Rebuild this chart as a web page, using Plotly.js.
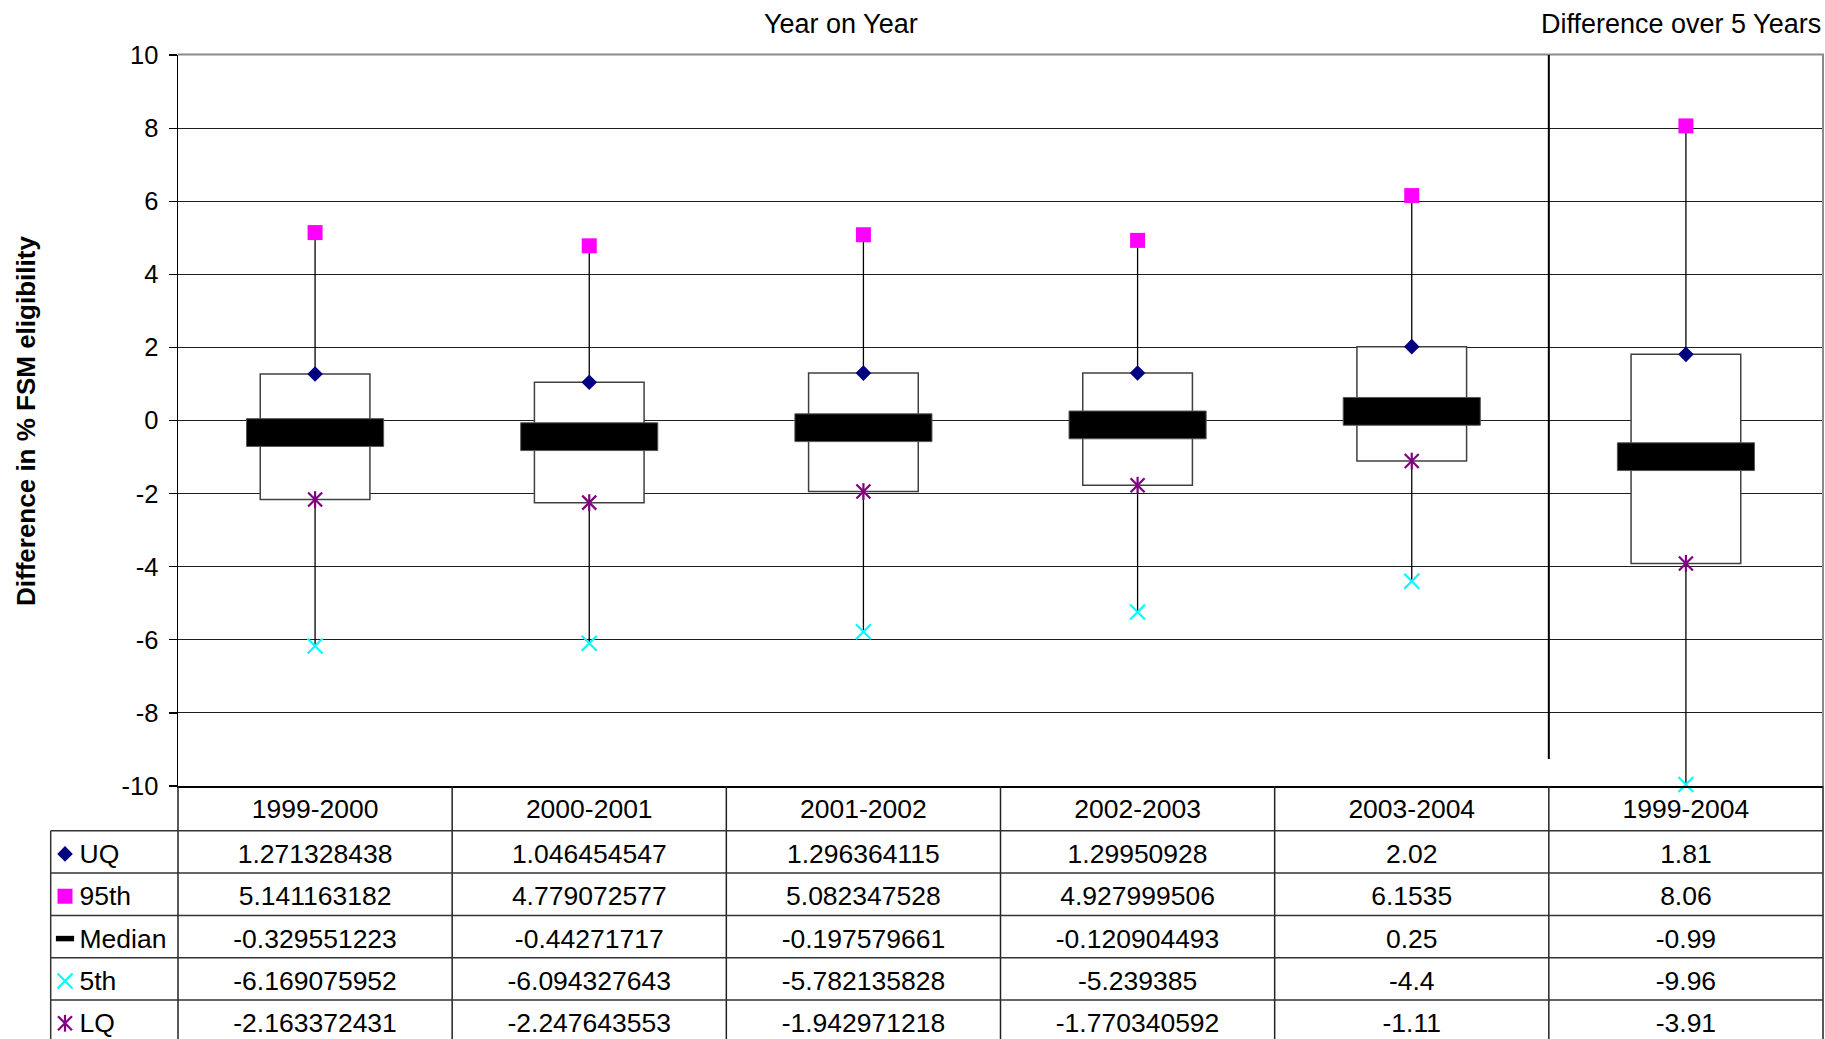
<!DOCTYPE html>
<html>
<head>
<meta charset="utf-8">
<script src="https://cdn.plot.ly/plotly-3.0.1.min.js"></script>
<style>html,body{margin:0;padding:0;background:#fff;}#chart{width:1825px;height:1039px;}</style>
</head>
<body>
<div id="chart"></div>
<script>
// ---- data ----
var categories = ['1999-2000', '2000-2001', '2001-2002', '2002-2003', '2003-2004', '1999-2004'];
var uq     = [1.271328438, 1.046454547, 1.296364115, 1.29950928, 2.02, 1.81];
var p95    = [5.141163182, 4.779072577, 5.082347528, 4.927999506, 6.1535, 8.06];
var median = [-0.329551223, -0.44271717, -0.197579661, -0.120904493, 0.25, -0.99];
var p5     = [-6.169075952, -6.094327643, -5.782135828, -5.239385, -4.4, -9.96];
var lq     = [-2.163372431, -2.247643553, -1.942971218, -1.770340592, -1.11, -3.91];
var rowNames = ['UQ', '95th', 'Median', '5th', 'LQ'];
var yTickVals = [-10, -8, -6, -4, -2, 0, 2, 4, 6, 8, 10];

// ---- layout geometry (pixels) ----
var W = 1825, H = 1039;
var PL = 178, PR = 1823, PT = 55, PB = 786;   // plot area
var TL = 50.7;                                 // table left edge
var ROW_TOP = 830.7, ROW_H = 42.35, HEAD_C = 808.4;
var TXT_DY = 4.5, HEAD_DY = 2.5;               // vertical nudge of table text
var FONT = 'Liberation Sans, Arial, sans-serif';
var FS = 26.5;
function px(x) { return x / W; }
function py(y) { return 1 - y / H; }

var COLORS = { uq: '#000080', p95: '#FF00FF', med: '#000000', p5: '#00FFFF', lq: '#800080' };

var traces = [];
// boxes (LQ..UQ)
traces.push({
  type: 'bar', x: categories, base: lq, y: uq.map(function (v, i) { return v - lq[i]; }),
  width: 0.4, marker: { color: '#ffffff', line: { color: '#404040', width: 1.5 } },
  xaxis: 'x', yaxis: 'y', hoverinfo: 'skip', showlegend: false
});
// median thick bars
var MED_H = 0.76;
traces.push({
  type: 'bar', x: categories, base: median.map(function (v) { return v - MED_H / 2; }),
  y: median.map(function () { return MED_H; }),
  width: 0.5, marker: { color: '#000000', line: { color: '#555', width: 1 } },
  xaxis: 'x', yaxis: 'y', hoverinfo: 'skip', showlegend: false
});
// whiskers
var wx = [], wy = [];
categories.forEach(function (c, i) {
  wx.push(c, c, null, c, c, null);
  wy.push(p95[i], uq[i], null, lq[i], p5[i], null);
});
traces.push({ type: 'scatter', mode: 'lines', x: wx, y: wy, line: { color: '#000', width: 1.3 },
  xaxis: 'x', yaxis: 'y', hoverinfo: 'skip', showlegend: false });

function mk(sym, size, color, open) {
  var m = { symbol: sym, size: size, color: color };
  if (open) m.line = { color: color, width: 2.2 };
  return m;
}
var markerDefs = [
  { vals: uq,  marker: [mk('diamond', 12, COLORS.uq)] },
  { vals: p95, marker: [mk('square', 15, COLORS.p95)] },
  { vals: p5,  marker: [mk('x-thin-open', 15, COLORS.p5, true)] },
  { vals: lq,  marker: [mk('x-thin-open', 14, COLORS.lq, true), mk('line-ns-open', 12, COLORS.lq, true)] }
];
markerDefs.forEach(function (d) {
  d.marker.forEach(function (m) {
    traces.push({ type: 'scatter', mode: 'markers', x: categories, y: d.vals, marker: m,
      cliponaxis: false, xaxis: 'x', yaxis: 'y', hoverinfo: 'skip', showlegend: false });
  });
});

// ---- table: header labels ----
traces.push({ type: 'scatter', mode: 'text', x: categories, y: categories.map(function () { return HEAD_C + HEAD_DY; }),
  text: categories, textposition: 'middle center', textfont: { family: FONT, size: FS, color: '#000' },
  cliponaxis: false, xaxis: 'x', yaxis: 'y2', hoverinfo: 'skip', showlegend: false });

// table values
var rowVals = [uq, p95, median, p5, lq];
rowVals.forEach(function (vals, r) {
  var yc = ROW_TOP + ROW_H * (r + 0.5) + TXT_DY;
  traces.push({ type: 'scatter', mode: 'text', x: categories, y: vals.map(function () { return yc; }),
    text: vals.map(function (v) { return String(v); }), textposition: 'middle center',
    textfont: { family: FONT, size: FS, color: '#000' },
    cliponaxis: false, xaxis: 'x', yaxis: 'y2', hoverinfo: 'skip', showlegend: false });
});

// legend symbols + labels in table's first column
var legendMarkers = [
  [mk('diamond', 12, COLORS.uq)],
  [mk('square', 15, COLORS.p95)],
  [{ symbol: 'line-ew-open', size: 13, color: '#000', line: { color: '#000', width: 5.5 } }],
  [mk('x-thin-open', 15, COLORS.p5, true)],
  [mk('x-thin-open', 14, COLORS.lq, true), mk('line-ns-open', 12, COLORS.lq, true)]
];
legendMarkers.forEach(function (ms, r) {
  var yc = ROW_TOP + ROW_H * (r + 0.5) + 2;
  ms.forEach(function (m) {
    traces.push({ type: 'scatter', mode: 'markers', x: [65], y: [yc], marker: m,
      cliponaxis: false, xaxis: 'x2', yaxis: 'y2', hoverinfo: 'skip', showlegend: false });
  });
});
traces.push({ type: 'scatter', mode: 'text', x: rowNames.map(function () { return 79.5; }),
  y: rowNames.map(function (n, r) { return ROW_TOP + ROW_H * (r + 0.5) + TXT_DY; }),
  text: rowNames, textposition: 'middle right', textfont: { family: FONT, size: FS, color: '#000' },
  cliponaxis: false, xaxis: 'x2', yaxis: 'y2', hoverinfo: 'skip', showlegend: false });

// ---- shapes: borders & table grid ----
var shapes = [];
function line(x0, y0, x1, y1, color, width) {
  shapes.push({ type: 'line', xref: 'paper', yref: 'paper', x0: px(x0), y0: py(y0), x1: px(x1), y1: py(y1),
    line: { color: color, width: width }, layer: 'above' });
}
line(PL, PT - 0.5, PR + 1, PT - 0.5, '#8a8a8a', 2);   // top border
line(PR, PT, PR, PB, '#8a8a8a', 2);                    // right border
var colW = (PR - PL) / categories.length;
for (var k = 0; k <= categories.length; k++) {
  line(PL + k * colW, PB, PL + k * colW, H, '#222', 1.5);
}
for (var r = 0; r < rowNames.length; r++) {
  line(TL, ROW_TOP + r * ROW_H, PR, ROW_TOP + r * ROW_H, '#333', 1.5);
}
line(TL, ROW_TOP, TL, H, '#333', 1.5);
// separator between year-on-year and 5-year difference
shapes.push({ type: 'line', xref: 'x', yref: 'y', x0: 4.5, x1: 4.5, y0: -9.26, y1: 10,
  line: { color: '#000', width: 2 }, layer: 'above' });

var annotations = [
  { text: 'Year on Year', xref: 'paper', yref: 'paper', x: px(841), y: py(24), showarrow: false,
    xanchor: 'center', yanchor: 'middle', font: { family: FONT, size: 27, color: '#000' } },
  { text: 'Difference over 5 Years', xref: 'paper', yref: 'paper', x: px(1681), y: py(24), showarrow: false,
    xanchor: 'center', yanchor: 'middle', font: { family: FONT, size: 27, color: '#000' } },
  { text: '<b>Difference in % FSM eligibility</b>', xref: 'paper', yref: 'paper', x: px(26), y: py(421),
    textangle: -90, showarrow: false, xanchor: 'center', yanchor: 'middle',
    font: { family: FONT, size: 26, color: '#000' } }
];

var layout = {
  width: W, height: H,
  margin: { l: 0, r: 0, t: 0, b: 0, pad: 0 },
  paper_bgcolor: '#fff', plot_bgcolor: '#fff',
  showlegend: false, barmode: 'overlay',
  font: { family: FONT, size: 26, color: '#000' },
  xaxis: {
    domain: [px(PL), px(PR)], type: 'category', categoryorder: 'array', categoryarray: categories,
    range: [-0.5, categories.length - 0.5], showticklabels: false, ticks: '', showgrid: false,
    zeroline: false, showline: true, linecolor: '#000', linewidth: 1.5, anchor: 'y', fixedrange: true
  },
  yaxis: {
    domain: [py(PB), py(PT)], range: [-10, 10], tickvals: yTickVals, ticktext: yTickVals.map(String),
    ticks: 'outside', ticklen: 8, tickwidth: 1.2, tickcolor: '#000', ticklabelstandoff: 5,
    tickfont: { family: FONT, size: 25.5, color: '#000' },
    showgrid: true, gridcolor: '#1e1e1e', gridwidth: 1, zeroline: false,
    showline: true, linecolor: '#000', linewidth: 1.5, anchor: 'x', fixedrange: true
  },
  xaxis2: { domain: [0, px(PL)], range: [0, PL], visible: false, anchor: 'y2', fixedrange: true },
  yaxis2: { domain: [0, py(PB)], range: [H, PB], visible: false, anchor: 'x', fixedrange: true },
  shapes: shapes,
  annotations: annotations
};

Plotly.newPlot('chart', traces, layout, { staticPlot: true, displayModeBar: false });
</script>
</body>
</html>
